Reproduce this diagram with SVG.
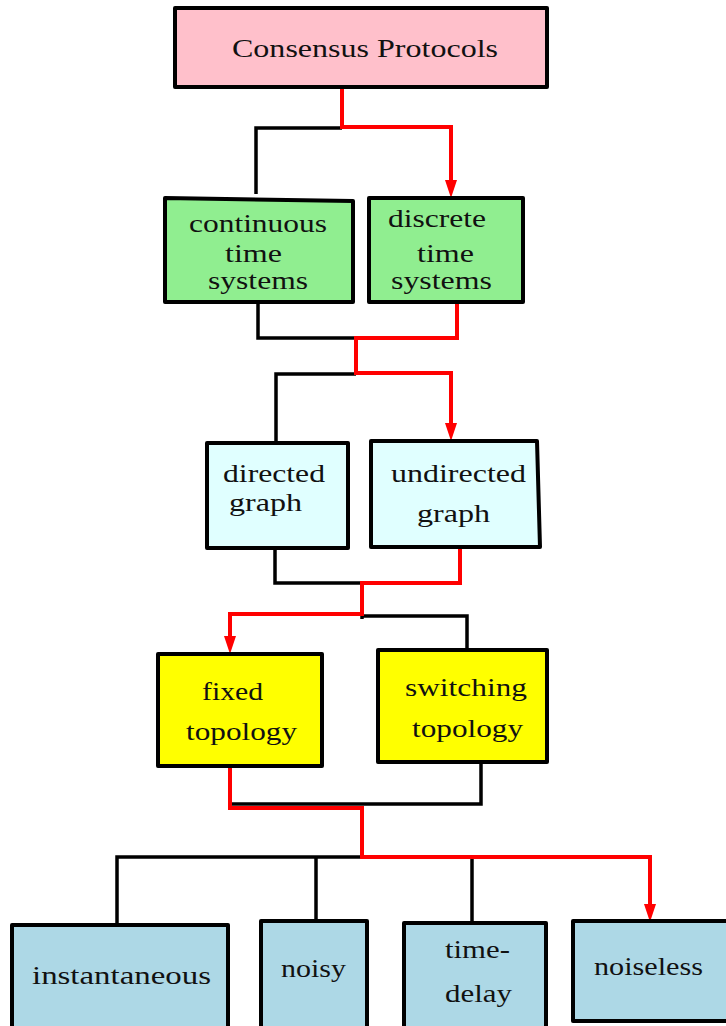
<svg xmlns="http://www.w3.org/2000/svg" width="726" height="1026" viewBox="0 0 726 1026">
  <style>
    .box { stroke: #000; stroke-width: 4; stroke-linejoin: round; }
    .pink { fill: #ffc0cb; }
    .green { fill: #90ee90; }
    .cyan { fill: #e0ffff; }
    .yellow { fill: #ffff00; }
    .blue { fill: #add8e6; }
    .lbl { font-family: "Liberation Serif", "Times New Roman", serif; font-size: 25px; fill: #111; }
    .wire { fill: none; stroke: #000; stroke-width: 3.5; stroke-linejoin: miter; }
    .path { fill: none; stroke: #ff0000; stroke-width: 4; stroke-linejoin: miter; }
    .head { fill: #ff0000; }
  </style>
  <rect width="726" height="1026" fill="#fff"/>

  <!-- connectors: black tree edges, red highlighted route on top -->
  <g id="connectors">
    <g id="plain-wires">
      <path class="wire" d="M256,194 V128 H342"/>
      <path class="wire" d="M258,302 V338 H356"/>
      <path class="wire" d="M276,442 V374 H356"/>
      <path class="wire" d="M275,548 V583 H362"/>
      <path class="wire" d="M362,619 V616 H467 V649"/>
      <path class="wire" d="M481,762 V804 H230"/>
      <path class="wire" d="M117,925 V857 H362"/>
      <path class="wire" d="M316,857 V921"/>
      <path class="wire" d="M472,857 V923"/>
    </g>
    <g id="highlight-path">
      <path class="path" d="M342,87 V127 H451 V181"/>
      <path class="path" d="M457,302 V338 H356 V373 H451 V424"/>
      <path class="path" d="M460,547 V583 H362 V614 H230 V637"/>
      <path class="path" d="M230,766 V808 H362 V857 H650 V905"/>
      <path class="head" d="M445,180 L457,180 L451,198 z"/>
      <path class="head" d="M445,423 L457,423 L451,441 z"/>
      <path class="head" d="M224,636 L236,636 L230,654 z"/>
      <path class="head" d="M644,904 L656,904 L650,922 z"/>
    </g>
  </g>

  <!-- nodes -->
  <g id="consensus-protocols">
    <rect class="box pink" x="175" y="8" width="372" height="79"/>
    <text class="lbl" x="232" y="57" textLength="266" lengthAdjust="spacingAndGlyphs">Consensus Protocols</text>
  </g>

  <g id="continuous-time">
    <polygon class="box green" points="165,198 353,201 353,302 165,302"/>
    <text class="lbl" x="189" y="232" textLength="138" lengthAdjust="spacingAndGlyphs">continuous</text>
    <text class="lbl" x="225" y="262" textLength="57" lengthAdjust="spacingAndGlyphs">time</text>
    <text class="lbl" x="208" y="289" textLength="100" lengthAdjust="spacingAndGlyphs">systems</text>
  </g>

  <g id="discrete-time">
    <rect class="box green" x="369" y="198" width="154" height="104"/>
    <text class="lbl" x="388" y="227" textLength="98" lengthAdjust="spacingAndGlyphs">discrete</text>
    <text class="lbl" x="417" y="262" textLength="57" lengthAdjust="spacingAndGlyphs">time</text>
    <text class="lbl" x="391" y="289" textLength="101" lengthAdjust="spacingAndGlyphs">systems</text>
  </g>

  <g id="directed-graph">
    <rect class="box cyan" x="207" y="443" width="141" height="105"/>
    <text class="lbl" x="223" y="482" textLength="102" lengthAdjust="spacingAndGlyphs">directed</text>
    <text class="lbl" x="229" y="511" textLength="73" lengthAdjust="spacingAndGlyphs">graph</text>
  </g>

  <g id="undirected-graph">
    <polygon class="box cyan" points="371,441 537,441 540,547 371,547"/>
    <text class="lbl" x="391" y="482" textLength="135" lengthAdjust="spacingAndGlyphs">undirected</text>
    <text class="lbl" x="417" y="522" textLength="73" lengthAdjust="spacingAndGlyphs">graph</text>
  </g>

  <g id="fixed-topology">
    <rect class="box yellow" x="158" y="654" width="164" height="112"/>
    <text class="lbl" x="202" y="700" textLength="61" lengthAdjust="spacingAndGlyphs">fixed</text>
    <text class="lbl" x="186" y="740" textLength="111" lengthAdjust="spacingAndGlyphs">topology</text>
  </g>

  <g id="switching-topology">
    <rect class="box yellow" x="378" y="650" width="169" height="112"/>
    <text class="lbl" x="405" y="696" textLength="122" lengthAdjust="spacingAndGlyphs">switching</text>
    <text class="lbl" x="412" y="737" textLength="111" lengthAdjust="spacingAndGlyphs">topology</text>
  </g>

  <g id="instantaneous">
    <rect class="box blue" x="12" y="925" width="216" height="104"/>
    <text class="lbl" x="32" y="984" textLength="179" lengthAdjust="spacingAndGlyphs">instantaneous</text>
  </g>

  <g id="noisy">
    <rect class="box blue" x="261" y="921" width="106" height="108"/>
    <text class="lbl" x="281" y="977" textLength="65" lengthAdjust="spacingAndGlyphs">noisy</text>
  </g>

  <g id="time-delay">
    <rect class="box blue" x="404" y="923" width="142" height="106"/>
    <text class="lbl" x="445" y="958" textLength="65" lengthAdjust="spacingAndGlyphs">time-</text>
    <text class="lbl" x="445" y="1002" textLength="67" lengthAdjust="spacingAndGlyphs">delay</text>
  </g>

  <g id="noiseless">
    <rect class="box blue" x="573" y="921" width="160" height="100"/>
    <text class="lbl" x="594" y="975" textLength="109" lengthAdjust="spacingAndGlyphs">noiseless</text>
  </g>
</svg>
